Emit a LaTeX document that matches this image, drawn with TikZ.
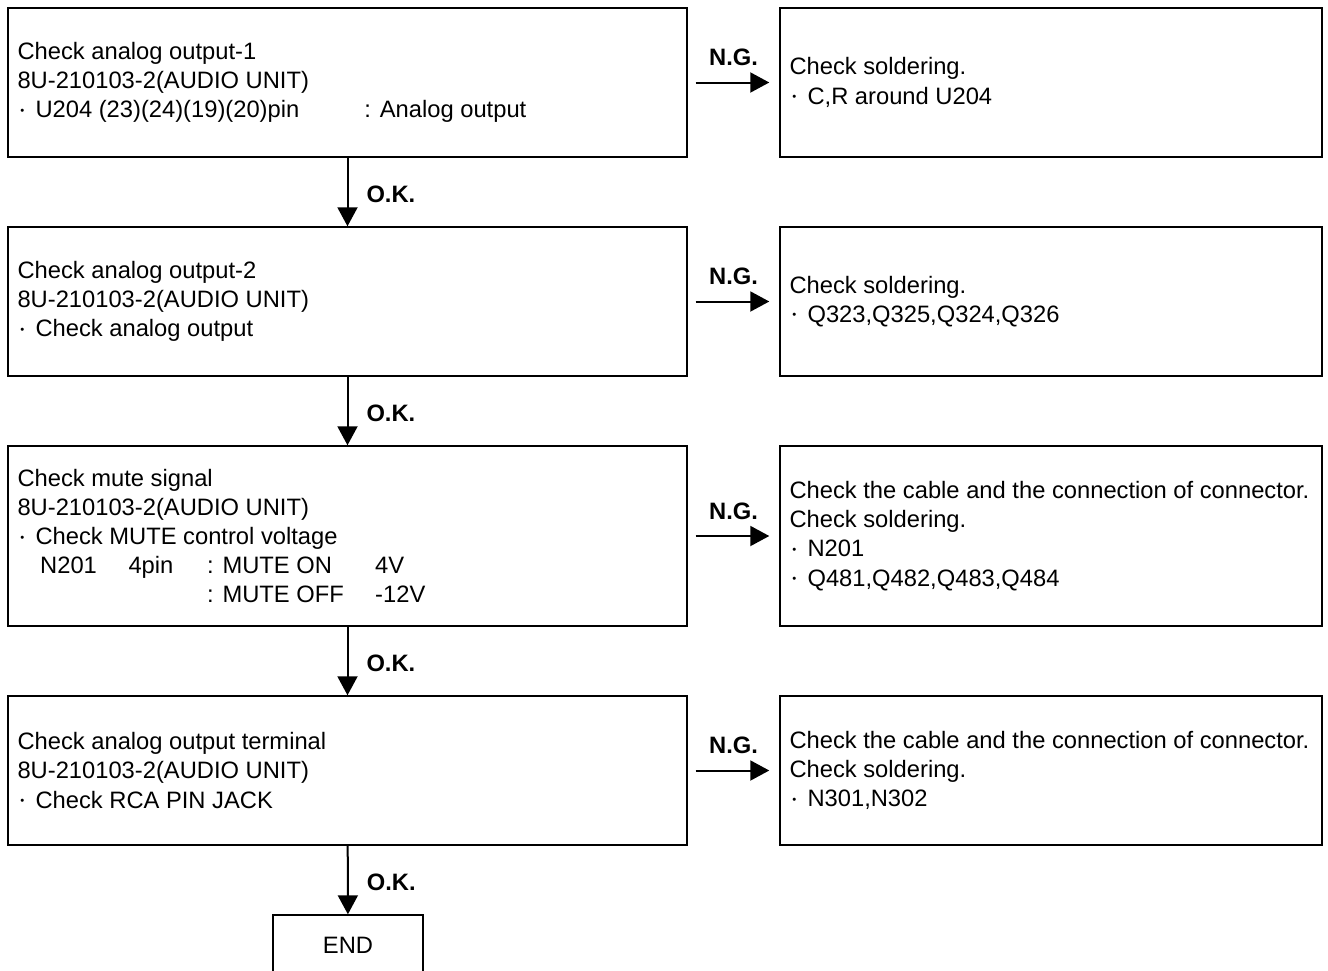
\documentclass[tikz,border=0pt]{standalone}
\usepackage{fontspec}
\setmainfont{Liberation Sans}
\usetikzlibrary{arrows.meta,calc}
\newcommand{\bul}{\makebox[13.5pt][l]{\hspace{2.2pt}\raisebox{2.6pt}{\fontsize{8.5}{8.5}\selectfont •}}}
\begin{document}
\begin{tikzpicture}[
  x=0.75pt, y=-0.75pt,
  lbox/.style={draw, line width=1.1pt, minimum width=509.25pt, minimum height=#1, inner sep=0pt},
  rbox/.style={draw, line width=1.1pt, minimum width=406.5pt, minimum height=#1, inner sep=0pt},
  txt/.style={anchor=west, align=left, inner sep=0pt, font=\fontsize{17.8}{21.9}\selectfont},
  lbl/.style={font=\bfseries\fontsize{17.8}{21.9}\selectfont, inner sep=0pt},
  arr/.style={line width=1.5pt, -{Triangle[length=14.25pt,width=15pt]}},
  ok/.style={lbl, anchor=west, pos=0.54, xshift=13.5pt},
  ng/.style={lbl, midway, above=11.5pt}
]
\useasboundingbox (0,0) rectangle (1328,971);

% left boxes
\node[lbox=111.75pt] (b1) at (347.5,82.5) {};
\node[lbox=111.75pt] (b2) at (347.5,301.5) {};
\node[lbox=135pt]    (b3) at (347.5,536) {};
\node[lbox=111.75pt] (b4) at (347.5,770.5) {};
\node[draw, line width=1.1pt, minimum width=112.5pt, minimum height=45pt, inner sep=0pt,
      font=\fontsize{17.8}{21.9}\selectfont] (end) at (348,945) {END};

% right boxes
\node[rbox=111.75pt] (r1) at (1051,82.5) {};
\node[rbox=111.75pt] (r2) at (1051,301.5) {};
\node[rbox=135pt]    (r3) at (1051,536) {};
\node[rbox=111.75pt] (r4) at (1051,770.5) {};

% texts
\node[txt] (t1) at ($(b1.west)+(10,0)$) {Check analog output-1\\8U-210103-2(AUDIO UNIT)\\\makebox[260.25pt][l]{\bul U204 (23)(24)(19)(20)pin}: Analog output};
\node[txt] (t2) at ($(b2.west)+(10,0)$) {Check analog output-2\\8U-210103-2(AUDIO UNIT)\\\bul Check analog output};
\node[txt] (t3) at ($(b3.west)+(10,0)$) {Check mute signal\\8U-210103-2(AUDIO UNIT)\\\bul Check MUTE control voltage\\\makebox[17pt]{}\makebox[66.25pt][l]{N201}\makebox[59pt][l]{4pin}\makebox[126pt][l]{: MUTE ON}4V\\\makebox[142.25pt]{}\makebox[126pt][l]{: MUTE OFF}-12V};
\node[txt] (t4) at ($(b4.west)+(10,0)$) {Check analog output terminal\\8U-210103-2(AUDIO UNIT)\\\bul Check RCA PIN JACK};

\node[txt] (s1) at ($(r1.west)+(10,0)$) {Check soldering.\\\bul C,R around U204};
\node[txt] (s2) at ($(r2.west)+(10,0)$) {Check soldering.\\\bul Q323,Q325,Q324,Q326};
\node[txt] (s3) at ($(r3.west)+(10,0)$) {Check the cable and the connection of connector.\\Check soldering.\\\bul N201\\\bul Q481,Q482,Q483,Q484};
\node[txt] (s4) at ($(r4.west)+(10,0)$) {Check the cable and the connection of connector.\\Check soldering.\\\bul N301,N302};

% O.K. arrows
\draw[arr] (b1) -- node[ok] {O.K.} (b2);
\draw[arr] (b2) -- node[ok] {O.K.} (b3);
\draw[arr] (b3) -- node[ok] {O.K.} (b4);
\draw[arr] (b4) -- node[ok] {O.K.} (end);

% N.G. arrows
\draw[arr, shorten <=6pt, shorten >=7.5pt] (b1) -- node[ng] {N.G.} (r1);
\draw[arr, shorten <=6pt, shorten >=7.5pt] (b2) -- node[ng] {N.G.} (r2);
\draw[arr, shorten <=6pt, shorten >=7.5pt] (b3) -- node[ng] {N.G.} (r3);
\draw[arr, shorten <=6pt, shorten >=7.5pt] (b4) -- node[ng] {N.G.} (r4);
\end{tikzpicture}
\end{document}
